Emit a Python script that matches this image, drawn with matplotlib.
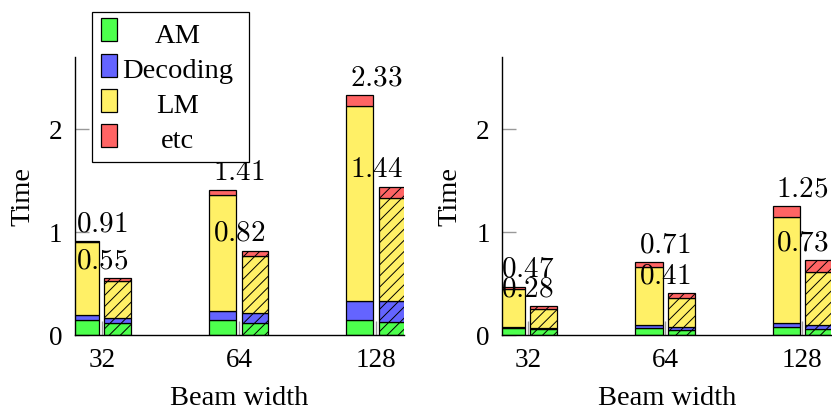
import matplotlib
matplotlib.use("Agg")
import matplotlib.pyplot as plt
from matplotlib.patches import Rectangle
import numpy as np

# beam widths on the x axis
beams = ['32', '64', '128']
layer_names = ['AM', 'Decoding', 'LM', 'etc']
layer_colors = ['#4dff4d', '#6464ff', '#fff066', '#ff6464']

# left panel, solid bars
l_solid_am = [0.145, 0.146, 0.149]
l_solid_dec = [0.045, 0.087, 0.184]
l_solid_lm = [0.715, 1.127, 1.887]
l_solid_etc = [0.005, 0.050, 0.110]
l_solid_total = [0.91, 1.41, 2.33]
# left panel, hatched bars
l_hatch_am = [0.117, 0.117, 0.123]
l_hatch_dec = [0.045, 0.097, 0.204]
l_hatch_lm = [0.360, 0.550, 1.000]
l_hatch_etc = [0.028, 0.056, 0.113]
l_hatch_total = [0.55, 0.82, 1.44]

# right panel, solid bars
r_solid_am = [0.068, 0.068, 0.075]
r_solid_dec = [0.008, 0.029, 0.042]
r_solid_lm = [0.372, 0.560, 1.025]
r_solid_etc = [0.022, 0.053, 0.108]
r_solid_total = [0.47, 0.71, 1.25]
# right panel, hatched bars
r_hatch_am = [0.060, 0.052, 0.058]
r_hatch_dec = [0.006, 0.023, 0.039]
r_hatch_lm = [0.184, 0.285, 0.518]
r_hatch_etc = [0.030, 0.050, 0.115]
r_hatch_total = [0.28, 0.41, 0.73]

plt.rcParams['font.family'] = ['Liberation Serif', 'DejaVu Serif']
plt.rcParams['mathtext.fontset'] = 'cm'
plt.rcParams['hatch.linewidth'] = 0.7

FS = 20.5
BW = 0.197
OFF = 0.117


def stack(ax, x, layers, hatch):
    bottom = np.zeros(len(x))
    for vals, col in zip(layers, layer_colors):
        ax.bar(x, vals, BW, bottom=bottom, color=col, edgecolor='black',
               linewidth=0.9, hatch=hatch, zorder=2)
        bottom += np.array(vals)


def draw_panel(ax, solid, hatched, solid_tot, hatch_tot, xlim):
    x = np.arange(len(beams))
    stack(ax, x - OFF, solid, None)
    stack(ax, x + OFF, hatched, '///')
    for xi, a, b in zip(x, solid_tot, hatch_tot):
        for v in (a, b):
            ax.annotate(f'${v:.2f}$', (xi, v), xytext=(0, 7),
                        textcoords='offset points', ha='center',
                        va='baseline', fontsize=FS + 0.5, zorder=4)
    ax.set_xlim(*xlim)
    ax.set_ylim(0, 2.70)
    ax.set_xticks(x)
    ax.set_xticklabels(beams)
    ax.set_yticks([0, 1, 2])
    ax.tick_params(direction='in', length=10, width=1, color='#999999',
                   labelsize=FS - 1, zorder=3)
    ax.tick_params(axis='x', pad=9)
    ax.tick_params(axis='y', pad=9)
    for s in ('top', 'right'):
        ax.spines[s].set_visible(False)
    for s in ('left', 'bottom'):
        ax.spines[s].set_linewidth(1.0)
        ax.spines[s].set_zorder(5)
    ax.set_xlabel('Beam width', fontsize=FS, labelpad=10)
    ax.set_ylabel('Time', fontsize=FS, labelpad=10)


fig = plt.figure(figsize=(8.32, 4.11), dpi=100)
ax1 = fig.add_axes([0.0901, 0.1849, 0.3954, 0.6764])
ax2 = fig.add_axes([0.6037, 0.1849, 0.3954, 0.6764])

draw_panel(ax1,
           [l_solid_am, l_solid_dec, l_solid_lm, l_solid_etc],
           [l_hatch_am, l_hatch_dec, l_hatch_lm, l_hatch_etc],
           l_solid_total, l_hatch_total, (-0.197, 2.204))
draw_panel(ax2,
           [r_solid_am, r_solid_dec, r_solid_lm, r_solid_etc],
           [r_hatch_am, r_hatch_dec, r_hatch_lm, r_hatch_etc],
           r_solid_total, r_hatch_total, (-0.185, 2.21))

# legend box drawn in figure pixels (text centred like the original)
W, H = 832.0, 411.0


def px(x, y):
    return x / W, 1 - y / H


x0, y0 = px(92, 162)
fig.add_artist(Rectangle((x0, y0), 157 / W, 150 / H, transform=fig.transFigure,
                         facecolor='white', edgecolor='black', linewidth=0.9,
                         zorder=10))
for i, (name, col) in enumerate(zip(layer_names, layer_colors)):
    cy = 30 + 35.2 * i
    hx, hy = px(101, cy + 11.5)
    fig.add_artist(Rectangle((hx, hy), 16 / W, 23 / H, transform=fig.transFigure,
                             facecolor=col, edgecolor='black', linewidth=0.9,
                             zorder=11))
    tx, ty = px(178, cy + 12.7)
    fig.text(tx, ty, name, ha='center', va='baseline', fontsize=FS, zorder=12)

fig.savefig('out.png', dpi=100)
